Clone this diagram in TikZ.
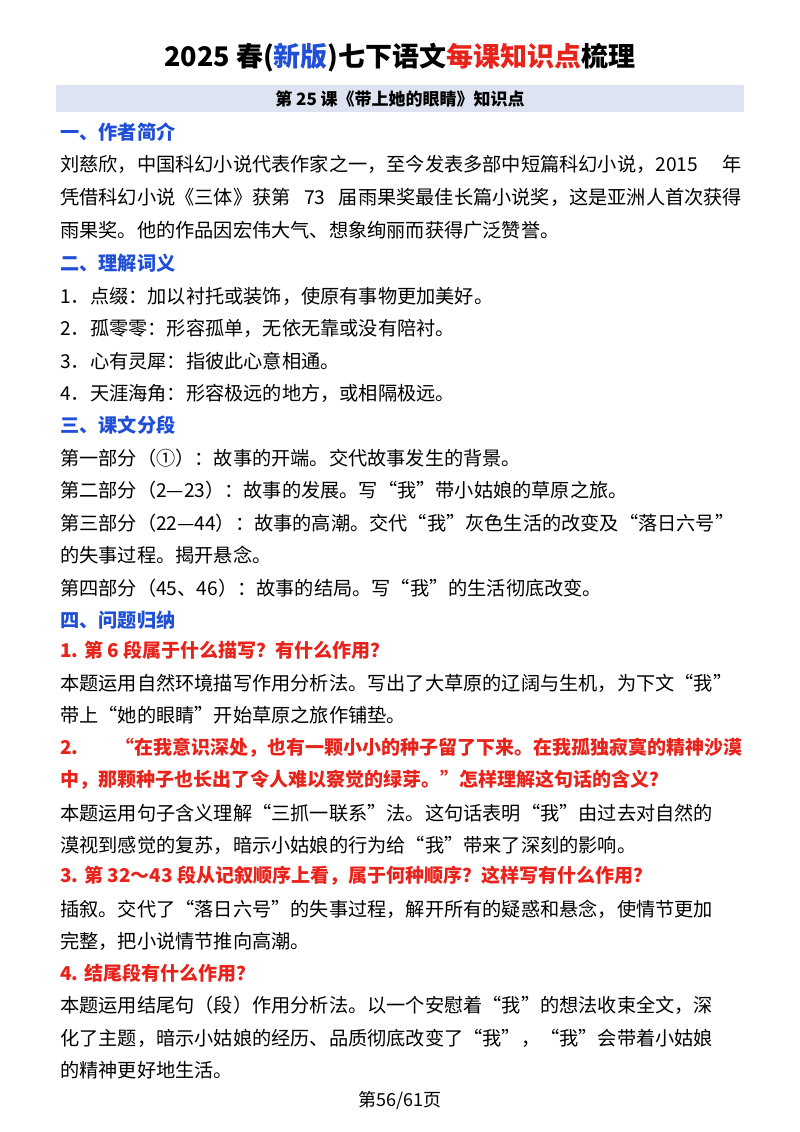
\documentclass[tikz,border=0pt]{standalone}
\usepackage{fontspec}
\setmainfont{Noto Sans CJK SC}
\XeTeXlinebreaklocale "zh"
\XeTeXlinebreakskip=0pt plus 2pt minus 1pt
\definecolor{hblue}{HTML}{1F4FD6}
\definecolor{hred}{HTML}{E8231B}
\definecolor{band}{HTML}{DDE3F0}
\newcommand{\fl}[1]{\hbox to 682pt{#1}}
\begin{document}
\begin{tikzpicture}[x=1pt,y=-1pt,
  body/.style={anchor=west,inner sep=0pt,font=\fontsize{19.2}{21}\selectfont},
  head/.style={body,text=hblue,font=\fontsize{19.2}{21}\selectfont\bfseries},
  ques/.style={body,text=hred,font=\fontsize{19}{21}\selectfont\bfseries}]
\useasboundingbox (0,0) rectangle (800,1132);
\fill[white] (0,0) rectangle (800,1132);
\node[font=\fontsize{27}{30}\selectfont\bfseries] (title) at (400,58) {2025 春(\textcolor{hblue}{新版})七下语文\textcolor{hred}{每课知识点}梳理};
\fill[band] (56,85) rectangle (744,112);
\node[font=\fontsize{17}{18}\selectfont\bfseries] (sub) at (400,99) {第 25 课《带上她的眼睛》知识点};
\node[head] (h1) at (60,132) {一、作者简介};
\node[body] (p1) at (60,164) {\fl{刘慈欣，中国科幻小说代表作家之一，至今发表多部中短篇科幻小说，2015 年}};
\node[body] (p2) at (60,197) {\fl{凭借科幻小说《三体》获第 73 届雨果奖最佳长篇小说奖，这是亚洲人首次获得}};
\node[body] (p3) at (60,230) {雨果奖。他的作品因宏伟大气、想象绚丽而获得广泛赞誉。};
\node[head] (h2) at (60,263) {二、理解词义};
\node[body] (w1) at (60,296) {1．点缀：加以衬托或装饰，使原有事物更加美好。};
\node[body] (w2) at (60,328) {2．孤零零：形容孤单，无依无靠或没有陪衬。};
\node[body] (w3) at (60,361) {3．心有灵犀：指彼此心意相通。};
\node[body] (w4) at (60,393) {4．天涯海角：形容极远的地方，或相隔极远。};
\node[head] (h3) at (60,425) {三、课文分段};
\node[body] (s1) at (60,458) {第一部分（①）：故事的开端。交代故事发生的背景。};
\node[body] (s2) at (60,490) {第二部分（2—23）：故事的发展。写“我”带小姑娘的草原之旅。};
\node[body] (s3) at (60,523) {\fl{第三部分（22—44）：故事的高潮。交代“我”灰色生活的改变及“落日六号”}};
\node[body] (s4) at (60,555) {的失事过程。揭开悬念。};
\node[body] (s5) at (60,588) {第四部分（45、46）：故事的结局。写“我”的生活彻底改变。};
\node[head] (h4) at (60,620) {四、问题归纳};
\node[ques] (q1) at (60,650) {1. 第 6 段属于什么描写？有什么作用？};
\node[body] (a1) at (60,683) {\fl{本题运用自然环境描写作用分析法。写出了大草原的辽阔与生机，为下文“我”}};
\node[body] (a1b) at (60,715) {带上“她的眼睛”开始草原之旅作铺垫。};
\node[ques] (q2) at (60,748) {\fl{2. “在我意识深处，也有一颗小小的种子留了下来。在我孤独寂寞的精神沙漠}};
\node[ques] (q2b) at (60,780) {中，那颗种子也长出了令人难以察觉的绿芽。”怎样理解这句话的含义？};
\node[body] (a2) at (60,813) {\fl{本题运用句子含义理解“三抓一联系”法。这句话表明“我”由过去对自然的}};
\node[body] (a2b) at (60,845) {漠视到感觉的复苏，暗示小姑娘的行为给“我”带来了深刻的影响。};
\node[ques] (q3) at (60,876) {3. 第 32～43 段从记叙顺序上看，属于何种顺序？这样写有什么作用？};
\node[body] (a3) at (60,909) {\fl{插叙。交代了“落日六号”的失事过程，解开所有的疑惑和悬念，使情节更加}};
\node[body] (a3b) at (60,941) {完整，把小说情节推向高潮。};
\node[ques] (q4) at (60,973) {4. 结尾段有什么作用？};
\node[body] (a4) at (60,1005) {\fl{本题运用结尾句（段）作用分析法。以一个安慰着“我”的想法收束全文，深}};
\node[body] (a4b) at (60,1038) {\fl{化了主题，暗示小姑娘的经历、品质彻底改变了“我”，“我”会带着小姑娘}};
\node[body] (a4c) at (60,1070) {的精神更好地生活。};
\node[font=\fontsize{18}{18}\selectfont] (foot) at (400,1100) {第56/61页};
\end{tikzpicture}
\end{document}
